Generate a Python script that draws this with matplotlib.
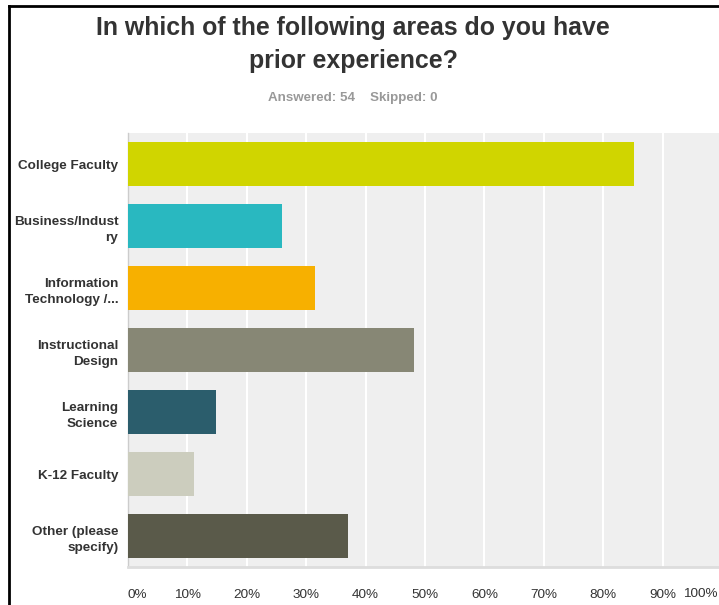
import matplotlib.pyplot as plt
from matplotlib.lines import Line2D

# Dados da pesquisa (porcentagem de respondentes)
categorias = ["College Faculty", "Business/Indust\nry", "Information\nTechnology /...",
              "Instructional\nDesign", "Learning\nScience", "K-12 Faculty",
              "Other (please\nspecify)"]
valores = [85.19, 25.93, 31.48, 48.15, 14.81, 11.11, 37.04]
cores = ["#d0d500", "#29b8c0", "#f7b000", "#878775", "#2b5d6c", "#cccdbe", "#5a5a4a"]
ticks_x = [0, 10, 20, 30, 40, 50, 60, 70, 80, 90, 100]
rotulos_x = [f"{t}%" for t in ticks_x]

plt.rcParams["font.family"] = ["Liberation Sans", "DejaVu Sans"]

W, H = 719, 605
fig = plt.figure(figsize=(W / 100, H / 100), dpi=100, facecolor="white")

# Area do grafico (em pixels da imagem de referencia)
esq, dir_, topo, base = 128, 722, 133, 567
ax = fig.add_axes([esq / W, (H - base) / H, (dir_ - esq) / W, (base - topo) / H])
ax.set_facecolor("#efefef")

posicoes = list(range(len(categorias)))
ax.barh(posicoes, valores, height=0.71, color=cores, zorder=3)

ax.set_xlim(0, 100)
ax.set_ylim(len(categorias) - 0.5, -0.5)
ax.set_yticks(posicoes)
ax.set_yticklabels(categorias, fontsize=9.7, fontweight="bold", color="#333333",
                   linespacing=1.45)
ax.set_xticks(ticks_x)
# o rotulo de 100% fica na borda da figura (colocado a parte)
ax.set_xticklabels(rotulos_x[:-1] + [""], fontsize=9.7, color="#333333")
ax.tick_params(axis="both", length=0)
ax.tick_params(axis="y", pad=7)
ax.tick_params(axis="x", pad=16)
ax.get_xticklabels()[0].set_horizontalalignment("left")

ax.grid(axis="x", color="white", linewidth=1.5, zorder=1)
for lado in ["top", "right"]:
    ax.spines[lado].set_visible(False)
ax.spines["left"].set_color("#cccccc")
ax.spines["left"].set_linewidth(1)
ax.spines["bottom"].set_color("#dddddd")
ax.spines["bottom"].set_linewidth(2)

# rotulo 100% encostado na borda direita
fig.text(718 / W, 1 - 594 / H, rotulos_x[-1], ha="right", va="center",
         fontsize=9.7, color="#333333")

# Titulo e subtitulo
fig.text(353 / W, 1 - 28 / H, "In which of the following areas do you have",
         ha="center", va="center", fontsize=17.9, fontweight="bold", color="#333333")
fig.text(353 / W, 1 - 61 / H, "prior experience?",
         ha="center", va="center", fontsize=17.9, fontweight="bold", color="#333333")
fig.text(353 / W, 1 - 98 / H, "Answered: 54    Skipped: 0",
         ha="center", va="center", fontsize=9.6, fontweight="bold", color="#999999")

# Moldura preta (esquerda e topo)
fig.add_artist(Line2D([9 / W, 9 / W], [0, 1 - 6 / H], color="black", linewidth=2))
fig.add_artist(Line2D([9 / W, 1], [1 - 6 / H, 1 - 6 / H], color="black", linewidth=2))

plt.savefig("out.png", dpi=100)
